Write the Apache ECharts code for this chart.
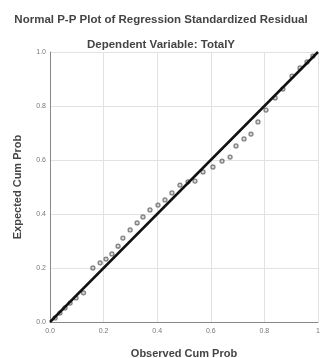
<!DOCTYPE html>
<html><head><meta charset="utf-8">
<script src="https://cdn.jsdelivr.net/npm/echarts@6/dist/echarts.min.js"></script>
<style>html,body{margin:0;padding:0;background:#fff}#c{width:322px;height:358px}</style>
</head><body><div id="c"></div>
<script>
var titleText = "Normal P-P Plot of Regression Standardized Residual";
var subTitleText = "Dependent Variable: TotalY";
var xName = "Observed Cum Prob";
var yName = "Expected Cum Prob";
var xTickLabels = {"0": "0.0", "0.2": "0.2", "0.4": "0.4", "0.6": "0.6", "0.8": "0.8", "1": "1"};
var yTickLabels = {"0": "0.0", "0.2": "0.2", "0.4": "0.4", "0.6": "0.6", "0.8": "0.8", "1": "1.0"};
var observed = [0.019,0.037,0.056,0.075,0.097,0.125,0.160,0.187,0.209,0.231,0.254,0.272,0.299,0.325,0.347,0.373,0.403,0.429,0.455,0.485,0.515,0.541,0.571,0.608,0.642,0.672,0.694,0.724,0.750,0.776,0.806,0.840,0.869,0.903,0.933,0.959,0.981];
var expected = [0.015,0.033,0.052,0.070,0.089,0.108,0.200,0.219,0.233,0.252,0.281,0.311,0.341,0.367,0.389,0.415,0.433,0.452,0.478,0.507,0.519,0.522,0.556,0.574,0.596,0.611,0.652,0.678,0.696,0.741,0.785,0.830,0.863,0.911,0.941,0.963,0.985];
var refLine = [[0,0],[1,1]];

var pts = [];
for (var i = 0; i < observed.length; i++) { pts.push([observed[i], expected[i]]); }
var chart = echarts.init(document.getElementById('c'));
function fmt(map){ return function(v){ var k = String(Math.round(v*10)/10); return map[k] !== undefined ? map[k] : ''; }; }
var nameStyle = {fontFamily: 'Liberation Sans', fontSize: 11, fontWeight: 'bold', color: '#444'};
chart.setOption({
  animation: false,
  title: [
    {text: titleText, left: 'center', top: 9, textStyle: {fontFamily: 'Liberation Sans', fontSize: 11.5, fontWeight: 'bold', color: '#444'}},
    {text: subTitleText, left: 'center', top: 34, textStyle: {fontFamily: 'Liberation Sans', fontSize: 11.5, fontWeight: 'bold', color: '#444'}}
  ],
  grid: {left: 50, right: 4, top: 52, bottom: 36, containLabel: false, outerBoundsMode: 'none'},
  xAxis: {
    type: 'value', min: 0, max: 1, interval: 0.2,
    name: xName, nameLocation: 'middle', nameGap: 26, nameTextStyle: nameStyle,
    axisLine: {show: true, lineStyle: {color: '#888', width: 1}},
    axisTick: {show: false},
    splitLine: {show: true, lineStyle: {color: '#e2e2e2', width: 1}},
    axisLabel: {fontFamily: 'Liberation Sans', fontSize: 7, color: '#777', margin: 6, formatter: fmt(xTickLabels)}
  },
  yAxis: {
    type: 'value', min: 0, max: 1, interval: 0.2,
    name: yName, nameLocation: 'middle', nameGap: 27, nameTextStyle: nameStyle,
    axisLine: {show: true, lineStyle: {color: '#888', width: 1}},
    axisTick: {show: false},
    splitLine: {show: true, lineStyle: {color: '#e2e2e2', width: 1}},
    axisLabel: {fontFamily: 'Liberation Sans', fontSize: 7, color: '#777', margin: 4, formatter: fmt(yTickLabels)}
  },
  series: [
    {type: 'scatter', data: pts, symbol: 'circle', symbolSize: 4,
     itemStyle: {color: 'rgba(120,120,120,0.35)', borderColor: '#666', borderWidth: 1.3}, z: 2},
    {type: 'line', data: refLine, showSymbol: false, symbol: 'none',
     lineStyle: {color: '#111', width: 2.5}, z: 3}
  ]
});
</script></body></html>
